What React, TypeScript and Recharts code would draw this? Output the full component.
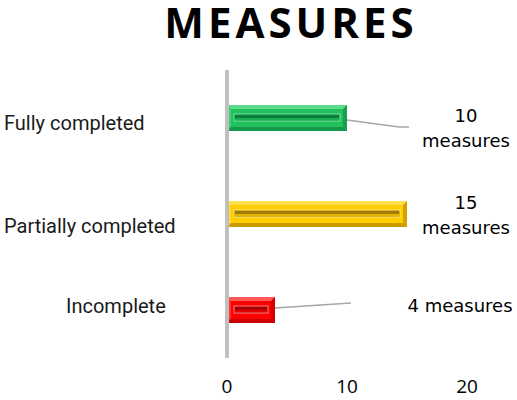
import { BarChart, Bar, XAxis, YAxis, Cell, LabelList } from 'recharts'

const categories = ['Fully completed', 'Partially completed', 'Incomplete']
const measureCounts = [10, 15, 4]
const xTicks = [0, 10, 20]
const unitLabel = 'measures'

const data = categories.map((name, i) => ({ name, value: measureCounts[i] }))

// bevel palette per bar: main, highlight, shadow
const palette = [
  { main: '#20c05c', light: '#74e6a0', dark: '#0c7f3b' },
  { main: '#ffcc00', light: '#ffe874', dark: '#a67c00' },
  { main: '#ff0000', light: '#ff8080', dark: '#a80000' },
]

// nudges for the category text, as in the original layout
const tickNudge = [
  { x: 4, dy: 5 },
  { x: 4, dy: 12 },
  { x: 66, dy: -4 },
]

// value label column and line offsets (relative to bar centre)
const labelCol = 466
const labelLayout = [
  { lines: 2, dy: [-2, 23] },
  { lines: 2, dy: [-11, 14] },
  { lines: 1, dy: [-4] },
]

const BevelBar = (props: any) => {
  const { x, y, width, height, index } = props
  if (!width || width <= 0) return null
  const c = palette[index % palette.length]
  const b = 4
  const gx = x + b + 3
  const gw = Math.max(width - 2 * b - 6, 0)
  const gy = y + height / 2 - 4
  return (
    <g>
      <rect x={x} y={y} width={width} height={height} fill={c.main} />
      <polygon
        points={`${x},${y} ${x + width},${y} ${x + width - b},${y + b} ${x + b},${y + b}`}
        fill={c.light}
        opacity={0.7}
      />
      <polygon
        points={`${x},${y} ${x + b},${y + b} ${x + b},${y + height - b} ${x},${y + height}`}
        fill={c.light}
        opacity={0.4}
      />
      <polygon
        points={`${x + width},${y} ${x + width},${y + height} ${x + width - b},${y + height - b} ${x + width - b},${y + b}`}
        fill={c.dark}
        opacity={0.5}
      />
      <polygon
        points={`${x},${y + height} ${x + width},${y + height} ${x + width - b},${y + height - b} ${x + b},${y + height - b}`}
        fill={c.dark}
        opacity={0.6}
      />
      <rect x={gx} y={gy} width={gw} height={7} fill={c.dark} stroke={c.light} strokeWidth={1} />
      <rect x={gx + 1} y={gy + 4} width={Math.max(gw - 2, 0)} height={2} fill={c.main} opacity={0.7} />
    </g>
  )
}

const CategoryTick = (props: any) => {
  const { y, payload, index } = props
  const n = tickNudge[index] || { x: 4, dy: 0 }
  return (
    <text
      x={n.x}
      y={y + n.dy}
      dy="0.35em"
      textAnchor="start"
      fontFamily="Roboto"
      fontSize={20}
      fill="#1a1a1a"
    >
      {payload.value}
    </text>
  )
}

const ValueLabel = (props: any) => {
  const { x, y, width, height, value, index } = props
  const cy = y + height / 2
  const end = x + width
  const layout = labelLayout[index]
  const textLines = layout.lines === 2 ? [String(value), unitLabel] : [`${value} ${unitLabel}`]
  return (
    <g>
      {index === 0 && (
        <polyline
          points={`${end},${cy + 2} ${end + 52},${cy + 9} ${end + 62},${cy + 9}`}
          fill="none"
          stroke="#a6a6a6"
          strokeWidth={1.5}
        />
      )}
      {index === 2 && (
        <polyline
          points={`${end},${cy - 2} ${end + 76},${cy - 7}`}
          fill="none"
          stroke="#a6a6a6"
          strokeWidth={1.5}
        />
      )}
      {textLines.map((t, i) => (
        <text
          key={i}
          x={layout.lines === 2 ? labelCol : labelCol - 6}
          y={cy + layout.dy[i]}
          dy="0.35em"
          textAnchor="middle"
          fontFamily="DejaVu Sans"
          fontSize={18}
          fill="#000"
        >
          {t}
        </text>
      ))}
    </g>
  )
}

export default function App() {
  return (
    <div style={{ position: 'absolute', left: 0, top: 0, width: 517, height: 400, overflow: 'hidden', background: '#fff' }}>
      <div
        style={{
          position: 'absolute',
          left: 61,
          top: -7,
          width: 456,
          textAlign: 'center',
          fontFamily: 'Open Sans',
          fontWeight: 700,
          fontSize: 42,
          letterSpacing: 4,
          paddingLeft: 4,
          boxSizing: 'border-box',
          color: '#000',
        }}
      >
        MEASURES
      </div>
      <BarChart
        width={517}
        height={400}
        data={data}
        layout="vertical"
        margin={{ top: 70, right: 50, bottom: 12, left: 0 }}
      >
        <XAxis
          type="number"
          domain={[0, 20]}
          ticks={xTicks}
          axisLine={false}
          tickLine={false}
          tickSize={0}
          tickMargin={22}
          height={30}
          tick={{ fill: '#000', fontSize: 19, fontFamily: 'Open Sans' }}
        />
        <YAxis
          type="category"
          dataKey="name"
          width={227}
          tickLine={false}
          axisLine={{ stroke: '#c0c0c0', strokeWidth: 4 }}
          tick={<CategoryTick />}
        />
        <Bar dataKey="value" barSize={26} shape={<BevelBar />} isAnimationActive={false}>
          {data.map((d, i) => (
            <Cell key={d.name} fill={palette[i].main} />
          ))}
          <LabelList dataKey="value" content={<ValueLabel />} />
        </Bar>
      </BarChart>
    </div>
  )
}
